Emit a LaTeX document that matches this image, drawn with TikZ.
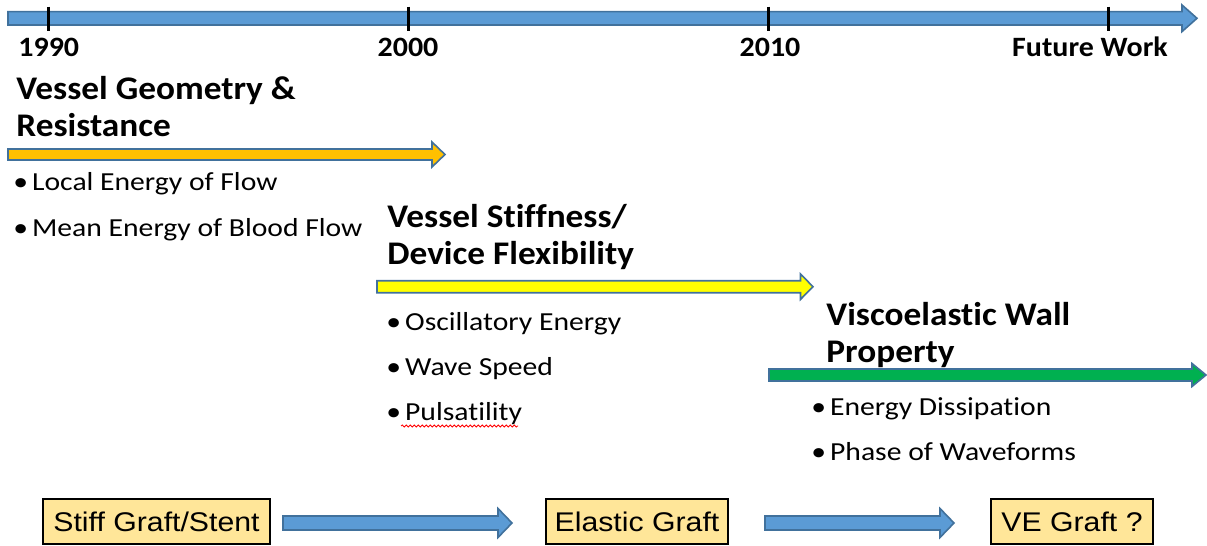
\documentclass[tikz,border=0pt]{standalone}
\usepackage{fontspec}
\usepackage{tikz}
\usetikzlibrary{calc,decorations.pathmorphing}
\setmainfont[Ligatures=NoCommon]{Carlito}
\newfontfamily\baslikfont[FakeStretch=1.07,Ligatures=NoCommon]{Carlito}
\newfontfamily\maddefont[FakeStretch=1.14,Ligatures=NoCommon]{Carlito}
\newfontfamily\kutufont[FakeStretch=1.12]{Liberation Sans}
\definecolor{zamanMavi}{HTML}{5B9BD5}
\definecolor{kenarMavi}{HTML}{41719C}
\definecolor{turuncu}{HTML}{FFC000}
\definecolor{sari}{HTML}{FFFF00}
\definecolor{yesil}{HTML}{00B050}
\definecolor{kutuSari}{HTML}{FFE699}
\newcommand{\nokta}{\kern-1pt•\kern2pt}
\tikzset{
  blok/.style={draw=kenarMavi,line width=0.8pt,line join=miter},
  tik/.style={line width=1.5pt,black},
  yil/.style={font=\baslikfont\bfseries\fontsize{14}{16}\selectfont,inner sep=0pt},
  baslik/.style={font=\baslikfont\bfseries\fontsize{16.5}{18.5}\selectfont,align=left,inner sep=0pt},
  madde/.style={font=\maddefont\fontsize{13}{15}\selectfont,inner sep=0pt,anchor=base west},
  kutu/.style={draw=black,line width=1pt,fill=kutuSari,minimum height=22.5pt,inner sep=0pt,
    font=\kutufont\fontsize{13.5}{15}\selectfont}
}
% blok ok: baslangic, uc, govde yari, bas yari, bas boyu, dolgu
\newcommand{\blokok}[6]{%
  \draw[blok,fill=#6] ($(#1)+(0,#3)$) -- ($(#2)+(-#5,#3)$) -- ($(#2)+(-#5,#4)$) -- (#2)
    -- ($(#2)+(-#5,-#4)$) -- ($(#2)+(-#5,-#3)$) -- ($(#1)+(0,-#3)$) -- cycle;}
\begin{document}
\begin{tikzpicture}[x=0.5pt,y=-0.5pt]
\useasboundingbox (0,0) rectangle (1207,546);
% zaman ekseni
\coordinate (z0) at (8,18.3);
\coordinate (z1) at (1197,18.3);
\blokok{z0}{z1}{6.7}{13.3}{15}{zamanMavi}
\foreach \x in {48,408,768,1108} \draw[tik] (\x,6.5)--(\x,30.5);
\node[yil,anchor=base west] (y1990) at (18,56.5) {1990};
\node[yil,anchor=base] (y2000) at (408,56.5) {2000};
\node[yil,anchor=base] (y2010) at (770,56.5) {2010};
\node[yil,anchor=base] (gelecek) at (1090,56.5) {Future Work};
% donem 1
\node[baslik,anchor=north west] (b1) at (16,76) {Vessel Geometry \&\\Resistance};
\coordinate (o1a) at (8,154.5);
\coordinate (o1b) at (445,154.5);
\blokok{o1a}{o1b}{5.5}{12.5}{13}{turuncu}
\node[madde] (m1a) at (15,190.7) {\nokta Local Energy of Flow};
\node[madde] (m1b) at (15,236) {\nokta Mean Energy of Blood Flow};
% donem 2
\node[baslik,anchor=north west] (b2) at (387,203.5) {Vessel Stiffness/\\Device Flexibility};
\coordinate (o2a) at (377,286.7);
\coordinate (o2b) at (813,286.7);
\blokok{o2a}{o2b}{6}{12.7}{12.5}{sari}
\node[madde] (m2a) at (388,330) {\nokta Oscillatory Energy};
\node[madde] (m2b) at (388,375.7) {\nokta Wave Speed};
\node[madde] (m2c) at (388,420) {\nokta Pulsatility};
\draw[red,line width=0.4pt,decorate,decoration={snake,amplitude=0.5pt,segment length=2pt}] (401,426)--(518,426);
% donem 3
\node[baslik,anchor=north west] (b3) at (826,301.5) {Viscoelastic Wall\\Property};
\coordinate (o3a) at (769,375);
\coordinate (o3b) at (1206,375);
\blokok{o3a}{o3b}{6}{11.5}{14}{yesil}
\node[madde] (m3a) at (813,415) {\nokta Energy Dissipation};
\node[madde] (m3b) at (813,460) {\nokta Phase of Waveforms};
% greftler
\node[kutu,minimum width=113.5pt] (sert) at (156.5,521.5) {Stiff Graft/Stent};
\node[kutu,minimum width=91pt] (elastik) at (637,521.5) {Elastic Graft};
\node[kutu,minimum width=81pt] (ve) at (1072,521.5) {VE Graft ?};
\coordinate (g1a) at ($(sert.east)+(12,1.5)$);
\coordinate (g1b) at ($(elastik.west)+(-33,1.5)$);
\blokok{g1a}{g1b}{7}{14.5}{14}{zamanMavi}
\coordinate (g2a) at ($(elastik.east)+(36,1.5)$);
\coordinate (g2b) at ($(ve.west)+(-36,1.5)$);
\blokok{g2a}{g2b}{7}{14.5}{14}{zamanMavi}
\end{tikzpicture}
\end{document}
